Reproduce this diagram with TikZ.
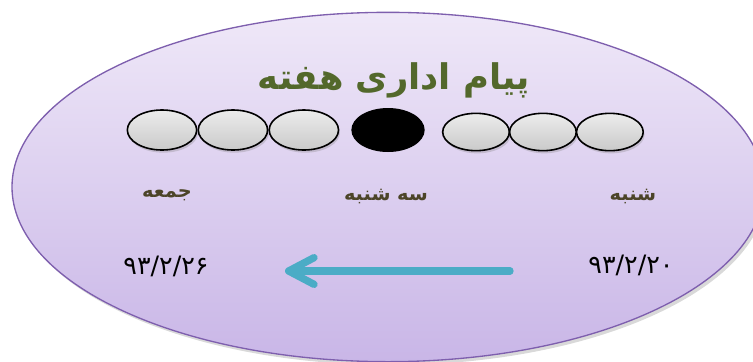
\documentclass[tikz,border=0pt]{standalone}
\usepackage{fontspec}
\newfontfamily\arabicfont[Script=Arabic]{DejaVu Sans}
\TeXXeTstate=1
\usepackage{xcolor}
\definecolor{lavtop}{RGB}{239,232,248}
\definecolor{lavbot}{RGB}{201,182,231}
\definecolor{lavline}{RGB}{126,95,174}
\definecolor{olivegreen}{RGB}{83,104,43}
\definecolor{daybrown}{RGB}{76,68,40}
\definecolor{arrowteal}{RGB}{75,172,198}
\usetikzlibrary{positioning, shapes.geometric, arrows.meta, shadows}
\tikzstyle{Bead} = [
ellipse,
draw=black,
line width=1.2pt,
top color=gray!15,
bottom color=gray!42,
minimum width=52pt,
minimum height=30pt,
drop shadow={opacity=0.3, shadow xshift=1pt, shadow yshift=-2pt}]
\tikzstyle{Day} = [
text=daybrown,
font=\arabicfont\bfseries\fontsize{14.5}{17}\selectfont]
\tikzstyle{Date} = [
text=black,
font=\arabicfont\fontsize{19}{22}\selectfont]
\tikzstyle{ArrowTeal} = [
line width=5.5pt,
arrowteal,
line cap=round,
-{Straight Barb[length=19pt, width=20pt, round]},
preaction={draw=black, opacity=0.15, transform canvas={shift={(1.2pt,-2pt)}}}]

\begin{document}
\begin{tikzpicture}[x=0.75pt, y=-0.75pt]
    \useasboundingbox (0,0) rectangle (753,361);
    \node [ellipse, draw=lavline, line width=1pt, top color=lavtop, bottom color=lavbot,
        minimum width=564pt, minimum height=262pt,
        drop shadow={opacity=0.3, shadow xshift=2pt, shadow yshift=-2.5pt}] (week) at (388,187) {};

    \node [text=olivegreen, font=\arabicfont\bfseries\fontsize{26.5}{31}\selectfont] (title) at (394,80)
        {\beginR پیام اداری هفته\endR};

    % beads
    \node [Bead] (b1) at (162,130) {};
    \node [Bead, right=0pt of b1] (b2) {};
    \node [Bead, right=0pt of b2] (b3) {};
    \node [ellipse, fill=black, minimum width=55pt, minimum height=33pt] (today) at (388,130) {};
    \node [Bead, minimum width=50pt, minimum height=28pt] (b5) at (476,132) {};
    \node [Bead, minimum width=50pt, minimum height=28pt, right=-1pt of b5] (b6) {};
    \node [Bead, minimum width=50pt, minimum height=28pt, right=-1pt of b6] (b7) {};

    \node [Day] (friday) at (167,195) {\beginR جمعه\endR};
    \node [Day] (tuesday) at (386,197) {\beginR سه شنبه\endR};
    \node [Day] (saturday) at (633,197) {\beginR شنبه\endR};

    \node [Date] (enddate) at (166,266) {۹۳/۲/۲۶};
    \node [Date] (startdate) at (631,265) {۹۳/۲/۲۰};

    \coordinate (arrowstart) at (510,271);
    \coordinate (arrowend) at (285,271);
    \draw[ArrowTeal] (arrowstart) -- (arrowend);
\end{tikzpicture}
\end{document}
